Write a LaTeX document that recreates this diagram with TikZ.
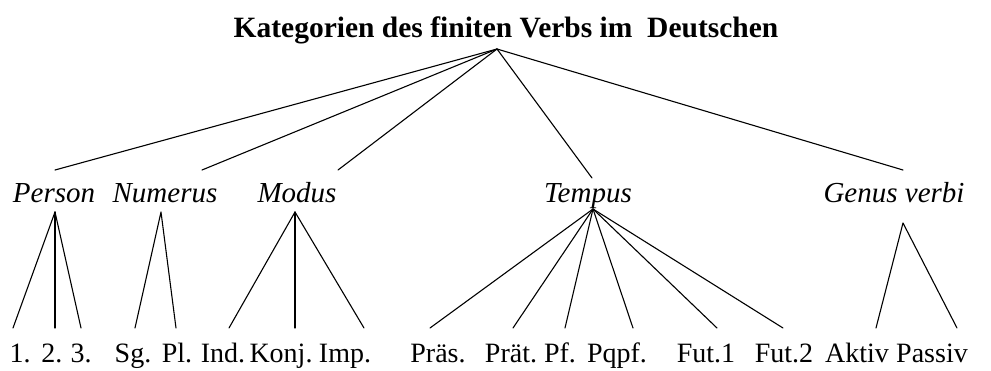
\documentclass[tikz,border=0pt]{standalone}
\usepackage{fontspec}
\setmainfont{Liberation Serif}
\begin{document}
\begin{tikzpicture}[x=1pt, y=-1pt, line cap=round, line join=round,
  titel/.style={font=\fontsize{29.5}{32}\selectfont\bfseries, inner sep=0pt, anchor=base},
  kategorie/.style={font=\fontsize{29}{32}\selectfont\itshape, inner sep=0pt, anchor=base},
  wert/.style={font=\fontsize{28}{30}\selectfont, inner sep=0pt, anchor=base},
  ast/.style={line width=1.1pt}]
  \useasboundingbox (0,0) rectangle (991,370);

  % Title and its foot point
  \node[titel] (kat) at (506, 37) {Kategorien des finiten Verbs im\ \ Deutschen};
  \coordinate (kat-fuss) at (497, 49);

  % Categories
  \node[kategorie] (person)  at (54, 202)  {Person};
  \node[kategorie] (numerus) at (165, 202) {Numerus};
  \node[kategorie] (modus)   at (297, 202) {Modus};
  \node[kategorie] (tempus)  at (588, 202) {Tempus};
  \node[kategorie] (genus)   at (894, 202) {Genus verbi};

  % upper and lower ends of the category branches
  \coordinate (person-kopf)  at (55, 170);
  \coordinate (numerus-kopf) at (202, 170);
  \coordinate (modus-kopf)   at (338, 170);
  \coordinate (tempus-kopf)  at (592, 178);
  \coordinate (genus-kopf)   at (903, 170);
  \coordinate (person-fuss)  at (55, 212);
  \coordinate (numerus-fuss) at (161, 212);
  \coordinate (modus-fuss)   at (295, 212);
  \coordinate (tempus-fuss)  at (593, 209);
  \coordinate (genus-fuss)   at (903, 223);

  \draw[ast] (kat-fuss) -- (person-kopf);
  \draw[ast] (kat-fuss) -- (numerus-kopf);
  \draw[ast] (kat-fuss) -- (modus-kopf);
  \draw[ast] (kat-fuss) -- (tempus-kopf);
  \draw[ast] (kat-fuss) -- (genus-kopf);

  % Values
  \node[wert] (p1)    at (20, 362)  {1.};
  \node[wert] (p2)    at (52, 362)  {2.};
  \node[wert] (p3)    at (81, 362)  {3.};
  \node[wert] (sg)    at (133, 362) {Sg.};
  \node[wert] (pl)    at (177, 362) {Pl.};
  \node[wert] (ind)   at (223, 362) {Ind.};
  \node[wert] (konj)  at (281, 362) {Konj.};
  \node[wert] (imp)   at (345, 362) {Imp.};
  \node[wert] (praes) at (438, 362) {Präs.};
  \node[wert] (praet) at (511, 362) {Prät.};
  \node[wert] (pf)    at (560, 362) {Pf.};
  \node[wert] (pqpf)  at (617, 362) {Pqpf.};
  \node[wert] (fut1)  at (706, 362) {Fut.1};
  \node[wert] (fut2)  at (784, 362) {Fut.2};
  \node[wert] (aktiv) at (857, 362) {Aktiv};
  \node[wert] (passiv) at (932, 362) {Passiv};

  % upper ends above the values
  \coordinate (p1-kopf)    at (13, 328);
  \coordinate (p2-kopf)    at (55, 328);
  \coordinate (p3-kopf)    at (81, 328);
  \coordinate (sg-kopf)    at (135, 328);
  \coordinate (pl-kopf)    at (176, 328);
  \coordinate (ind-kopf)   at (229, 328);
  \coordinate (konj-kopf)  at (295, 328);
  \coordinate (imp-kopf)   at (364, 328);
  \coordinate (praes-kopf) at (430, 328);
  \coordinate (praet-kopf) at (513, 328);
  \coordinate (pf-kopf)    at (565, 328);
  \coordinate (pqpf-kopf)  at (633, 328);
  \coordinate (fut1-kopf)  at (717, 328);
  \coordinate (fut2-kopf)  at (783, 328);
  \coordinate (aktiv-kopf) at (876, 328);
  \coordinate (passiv-kopf) at (957, 328);

  \draw[ast] (p1-kopf) -- (person-fuss) -- (p3-kopf);
  \draw[ast] (person-fuss) -- (p2-kopf);
  \draw[ast] (sg-kopf) -- (numerus-fuss) -- (pl-kopf);
  \draw[ast] (ind-kopf) -- (modus-fuss) -- (imp-kopf);
  \draw[ast] (modus-fuss) -- (konj-kopf);
  \draw[ast] (praes-kopf) -- (tempus-fuss) -- (fut2-kopf);
  \draw[ast] (tempus-fuss) -- (praet-kopf);
  \draw[ast] (tempus-fuss) -- (pf-kopf);
  \draw[ast] (tempus-fuss) -- (pqpf-kopf);
  \draw[ast] (tempus-fuss) -- (fut1-kopf);
  \draw[ast] (aktiv-kopf) -- (genus-fuss) -- (passiv-kopf);
\end{tikzpicture}
\end{document}
